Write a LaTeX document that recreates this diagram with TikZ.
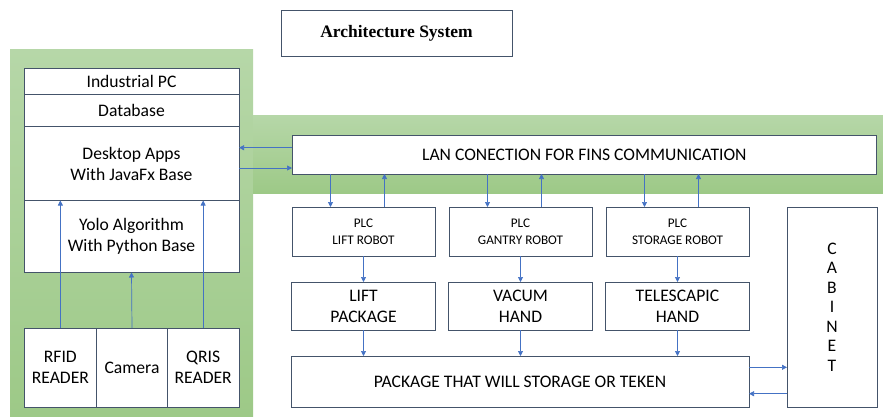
\documentclass[tikz,border=0pt]{standalone}
\usepackage{fontspec}
\setmainfont{Carlito}
\newfontfamily\titlefont{Liberation Serif}
\usetikzlibrary{positioning,arrows.meta}
\definecolor{edgegray}{HTML}{44546A}
\definecolor{linkblue}{HTML}{4472C4}
\definecolor{greentop}{HTML}{B6D7A8}
\definecolor{greenbot}{HTML}{9DC987}
\tikzset{
  blk/.style={draw=edgegray, line width=0.8pt, fill=white, align=center, inner sep=0pt, outer sep=0pt, font=\fontsize{17.6}{21}\selectfont},
  pcpart/.style={blk, minimum width=215pt},
  reader/.style={blk, minimum height=79pt},
  plc/.style={blk, minimum width=143pt, minimum height=49pt, font=\fontsize{13.2}{16.7}\selectfont},
  hand/.style={blk, minimum width=144pt, minimum height=48pt},
  link/.style={draw=linkblue, line width=0.7pt, -{Triangle[length=5pt,width=5pt]}},
}
\begin{document}
\begin{tikzpicture}[x=1pt,y=-1pt]
\useasboundingbox (0,0) rectangle (883,416);
\shade[top color=greentop, bottom color=greenbot] (10,49) rectangle (253,416);
\shade[top color=greentop, bottom color=greenbot] (253,115) rectangle (883,193);

\node[blk, minimum width=231pt, minimum height=46pt, font=\titlefont\bfseries\fontsize{17.5}{21}\selectfont] (title) at (396.5,33) {Architecture System};

\node[pcpart, minimum height=26pt, anchor=north] (ipc) at (131.5,68) {Industrial PC};
\node[pcpart, minimum height=32.5pt, below=0pt of ipc] (db) {Database};
\node[pcpart, minimum height=74pt, below=0pt of db] (desk) {Desktop Apps\\With JavaFx Base};
\node[pcpart, minimum height=72pt, below=0pt of desk] (yolo) {Yolo Algorithm\\With Python Base};

\node[reader, minimum width=72.7pt, anchor=north west] (rfid) at (24,328) {RFID\\READER};
\node[reader, minimum width=70.6pt, right=0pt of rfid] (cam) {Camera};
\node[reader, minimum width=71.7pt, right=0pt of cam] (qris) {QRIS\\READER};

\node[blk, minimum width=584.7pt, minimum height=39pt, anchor=north west] (lan) at (292,135) {LAN CONECTION FOR FINS COMMUNICATION};

\node[plc, anchor=north west] (plca) at (292,207) {PLC\\LIFT ROBOT};
\node[plc, right=14pt of plca] (plcb) {PLC\\GANTRY ROBOT};
\node[plc, right=14pt of plcb] (plcc) {PLC\\STORAGE ROBOT};

\node[hand, below=26pt of plca] (handa) {LIFT\\PACKAGE};
\node[hand, below=26pt of plcb] (handb) {VACUM\\HAND};
\node[hand, below=26pt of plcc] (handc) {TELESCAPIC\\HAND};

\node[blk, minimum width=458pt, minimum height=51pt, anchor=north west] (pkg) at (291,356) {PACKAGE THAT WILL STORAGE OR TEKEN};

\node[blk, minimum width=90pt, minimum height=200pt, anchor=north west, font=\fontsize{17.6}{19.5}\selectfont] (cab) at (787,207) {C\\A\\B\\I\\N\\E\\T};

\draw[link] (rfid.north) -- (rfid.north |- yolo.north);
\draw[link] (cam.north) -- (yolo.south);
\draw[link] (qris.north) -- (qris.north |- yolo.north);

\coordinate (lanin) at ([yshift=-12.7pt]lan.north west);
\coordinate (lanout) at ([yshift=6pt]lan.south west);
\draw[link] (lanin) -- (lanin -| desk.east);
\draw[link] (lanout -| desk.east) -- (lanout);

\foreach \p/\h in {plca/handa,plcb/handb,plcc/handc} {
  \coordinate (dn) at ([xshift=-33pt]\p.north);
  \coordinate (up) at ([xshift=21pt]\p.north);
  \draw[link] (dn |- lan.south) -- (dn);
  \draw[link] (up) -- (up |- lan.south);
  \draw[link] (\p.south) -- (\h.north);
  \draw[link] (\h.south) -- (\h.south |- pkg.north);
}

\coordinate (pkgout) at ([yshift=-11.3pt]pkg.north east);
\coordinate (pkgin) at ([yshift=13.3pt]pkg.south east);
\draw[link] (pkgout) -- (pkgout -| cab.west);
\draw[link] (pkgin -| cab.west) -- (pkgin);
\end{tikzpicture}
\end{document}
